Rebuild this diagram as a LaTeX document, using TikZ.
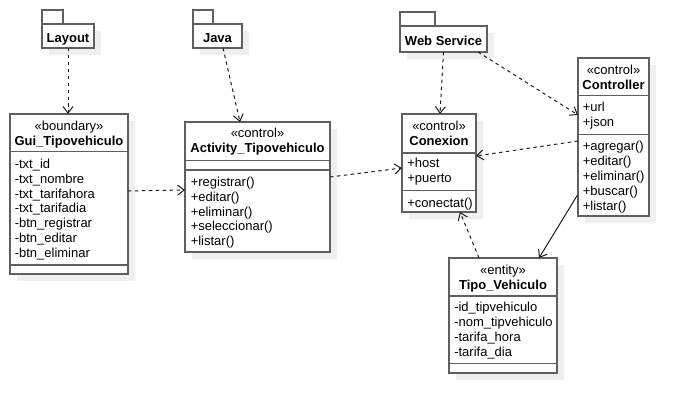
\documentclass[tikz,border=0pt]{standalone}
\usepackage{fontspec}
\setmainfont{Liberation Sans}
\usetikzlibrary{arrows.meta,calc,shadows}
\definecolor{boxgray}{HTML}{5F5F5F}
\definecolor{shadowgray}{HTML}{EFEFEF}
\definecolor{linegray}{HTML}{1E1E1E}
\tikzset{
  x=0.75pt, y=-0.75pt,
  box/.style={draw=boxgray, line width=1.1pt, fill=white, inner sep=0pt, outer sep=0pt,
    drop shadow={shadow xshift=5pt, shadow yshift=-5pt, fill=shadowgray, opacity=1}},
  tabbox/.style={draw=boxgray, line width=1.1pt, fill=white},
  sep/.style={draw=boxgray, line width=1.1pt},
  txt/.style={inner sep=0pt, font=\fontsize{9.75}{11.5}\selectfont, text height=9.8pt, text depth=2.2pt},
  attr/.style={txt, anchor=west},
  title/.style={txt, font=\fontsize{9.75}{11.5}\selectfont\bfseries},
  dep/.style={draw=linegray, line width=0.75pt, dash pattern=on 2.6pt off 2.6pt,
    -{Straight Barb[length=5pt,width=7.5pt]}},
  assoc/.style={draw=linegray, line width=0.75pt, -{Straight Barb[length=5pt,width=7.5pt]}},
}
\newcommand\classbox[5]{\node[box, anchor=north west, minimum width={(#4-#2)*0.75pt}, minimum height={(#5-#3)*0.75pt}] (#1) at (#2,#3) {};}
\begin{document}
\begin{tikzpicture}
\useasboundingbox (0,0) rectangle (689,413);

% ---------- packages ----------
\draw[tabbox] (42,10) rectangle (63,24);
\classbox{layout}{42}{24}{94}{48}
\node[title] (layoutT) at (68,37) {Layout};

\draw[tabbox] (193,10) rectangle (213,24);
\classbox{java}{193}{24}{242}{48}
\node[title] (javaT) at (217.5,37) {Java};

\draw[tabbox] (400,12) rectangle (435,26);
\classbox{ws}{400}{26}{487}{52}
\node[title] (wsT) at (443.5,40) {Web Service};

% ---------- Gui_Tipovehiculo ----------
\classbox{gui}{10}{114}{128}{274}
\draw[sep] (10,151.7) -- (128,151.7);
\draw[sep] (10,265) -- (128,265);
\node[txt] (guiS) at (69,125.5) {«boundary»};
\node[title] (guiN) at (69,140) {Gui\_Tipovehiculo};
\foreach \t [count=\i from 0] in {-txt\_id,-txt\_nombre,-txt\_tarifahora,-txt\_tarifadia,-btn\_registrar,-btn\_editar,-btn\_eliminar}
  \node[attr] (gui-\i) at (14.5,163.5+14.8*\i) {\t};

% ---------- Activity_Tipovehiculo ----------
\classbox{act}{185}{122}{330}{252}
\draw[sep] (185,160.7) -- (330,160.7);
\draw[sep] (185,170) -- (330,170);
\node[txt] (actS) at (257.5,132.5) {«control»};
\node[title] (actN) at (257.5,147.5) {Activity\_Tipovehiculo};
\foreach \t [count=\i from 0] in {+registrar(),+editar(),+eliminar(),+seleccionar(),+listar()}
  \node[attr] (act-\i) at (190.5,181.5+14.75*\i) {\t};

% ---------- Conexion ----------
\classbox{con}{402}{114}{476}{212}
\draw[sep] (402,153) -- (476,153);
\draw[sep] (402,190.7) -- (476,190.7);
\node[txt] (conS) at (439,125.5) {«control»};
\node[title] (conN) at (439,140) {Conexion};
\node[attr] (con-0) at (407,162.5) {+host};
\node[attr] (con-1) at (407,177.5) {+puerto};
\node[attr] (con-2) at (407,202) {+conectat()};

% ---------- Controller ----------
\classbox{ctl}{578}{58}{649}{216}
\draw[sep] (578,95.7) -- (649,95.7);
\draw[sep] (578,134.3) -- (649,134.3);
\node[txt] (ctlS) at (613.5,69.5) {«control»};
\node[title] (ctlN) at (613.5,84) {Controller};
\node[attr] (ctl-a) at (582.5,106.5) {+url};
\node[attr] (ctl-b) at (582.5,121.5) {+json};
\foreach \t [count=\i from 0] in {+agregar(),+editar(),+eliminar(),+buscar(),+listar()}
  \node[attr] (ctl-\i) at (582.5,145.5+15*\i) {\t};

% ---------- Tipo_Vehiculo ----------
\classbox{tipo}{449}{258}{557}{373}
\draw[sep] (449,296) -- (557,296);
\draw[sep] (449,363.3) -- (557,363.3);
\node[txt] (tipoS) at (503,269.5) {«entity»};
\node[title] (tipoN) at (503,284) {Tipo\_Vehiculo};
\foreach \t [count=\i from 0] in {-id\_tipvehiculo,-nom\_tipvehiculo,-tarifa\_hora,-tarifa\_dia}
  \node[attr] (tipo-\i) at (454,306.5+15*\i) {\t};

% ---------- connectors ----------
\draw[dep] (layout.south) -- (layout.south |- gui.north);
\draw[dep] ($(java.south)+(5.5,0)$) -- ($(act.north)+(-17.5,0)$);
\draw[dep] ($(gui.east)+(0,-3)$) -- ($(act.west)+(0,3)$);
\draw[dep] ($(act.east)+(0,-10)$) -- ($(con.west)+(0,5)$);
\draw[dep] (ws.south) -- ($(con.north)+(1,0)$);
\draw[dep] ($(ws.south)+(34.5,0)$) -- ($(ctl.west)+(0,-22)$);
\draw[dep] ($(ctl.west)+(0,4)$) -- ($(con.east)+(0,-7)$);
\draw[assoc] ($(ctl.west)+(-0.5,58)$) -- ($(tipo.north)+(36,0)$);
\draw[dep] ($(tipo.north)+(-24,0)$) -- ($(con.south)+(21,0)$);
\end{tikzpicture}
\end{document}
